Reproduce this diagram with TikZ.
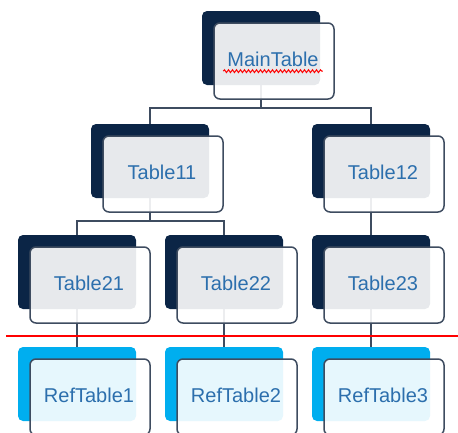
\documentclass[tikz,border=0pt]{standalone}
\usepackage{fontspec}
\setmainfont{Liberation Sans}
\usetikzlibrary{backgrounds,decorations.pathmorphing}
\definecolor{navy}{HTML}{0B2546}
\definecolor{skyb}{HTML}{00AEEF}
\definecolor{edge}{HTML}{3E4C60}
\definecolor{txt}{HTML}{2C6FAD}
\tikzset{
  back/.style={fill=#1,rounded corners=5pt,minimum width=118pt,minimum height=74pt,inner sep=0pt},
  front/.style={draw=edge,line width=1.5pt,fill=white,fill opacity=0.9,rounded corners=6pt,minimum width=120pt,minimum height=76pt,inner sep=0pt},
  lbl/.style={text=txt,font=\fontsize{20}{22}\selectfont,inner sep=1pt},
  link/.style={draw=edge,line width=1.5pt}
}
\begin{document}
\begin{tikzpicture}[x=1pt,y=-1pt]
	\clip (0,0) rectangle (458,432);
	% tables: back box, front box, label
	\foreach \n/\x/\y/\c/\t in {main/261/48/navy/MainTable,t11/150/161/navy/Table11,t12/371/161/navy/Table12,
		t21/77/272/navy/Table21,t22/224/272/navy/Table22,t23/371/272/navy/Table23,
		r1/77/384/skyb/RefTable1,r2/224/384/skyb/RefTable2,r3/371/384/skyb/RefTable3}
	{
	\node[back=\c] (\n) at (\x,\y) {};
	\node[front] (\n-f) at (\x+13,\y+13) {};
	\node[lbl] (\n-l) at (\x+12,\y+11) {\t};
	}
	\draw[red,line width=1pt,decorate,decoration={snake,amplitude=1.4pt,segment length=4pt}] ([xshift=-3pt,yshift=-5pt]main-l.base west) -- ([xshift=3pt,yshift=-5pt]main-l.base east);
	\begin{pgfonlayer}{background}
	\draw[link] (main.south) -- ++(0,23) -| (t11.north);
	\draw[link] (main.south) -- ++(0,23) -| (t12.north);
	\draw[link] (t11.south) -- ++(0,23) -| (t21.north);
	\draw[link] (t11.south) -- ++(0,23) -| (t22.north);
	\draw[link] (t12.south) -- (t23.north);
	\draw[link] (t21.south) -- (r1.north);
	\draw[link] (t22.south) -- (r2.north);
	\draw[link] (t23.south) -- (r3.north);
	\end{pgfonlayer}
	\draw[red,line width=2pt] (6,336) -- (458,336);
\end{tikzpicture}
\end{document}
